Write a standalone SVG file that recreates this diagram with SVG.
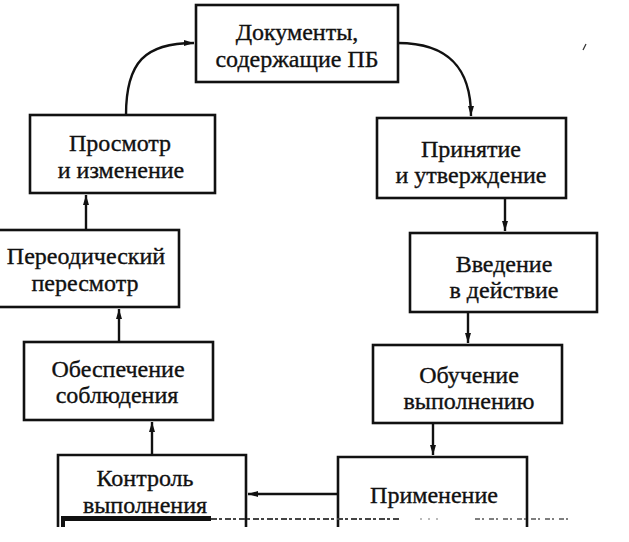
<svg xmlns="http://www.w3.org/2000/svg" width="629" height="542" viewBox="0 0 629 542">
<style>
.box{fill:#fff;stroke:#111;stroke-width:2.6}
.open{fill:none;stroke:#111;stroke-width:2.6}
.t{font-family:"Liberation Serif","Times New Roman",serif;font-size:24px;fill:#111;stroke:#111;stroke-width:0.35;text-anchor:middle}
.c{fill:none;stroke:#111;stroke-width:2.4}
</style>
<defs>
<marker id="ah" viewBox="0 0 10 6" refX="10" refY="3" markerWidth="10" markerHeight="6" markerUnits="userSpaceOnUse" orient="auto">
<path d="M0,0 L10,3 L0,6 Z" fill="#111"/>
</marker>
</defs>
<rect width="629" height="542" fill="#fff"/>
<g id="connectors">
<path class="c" d="M126,115 C126,62 145,43 194,43" marker-end="url(#ah)"/>
<path class="c" d="M398,43 C450,43 471,70 471,116" marker-end="url(#ah)"/>
<line class="c" x1="86" y1="230" x2="86" y2="195" marker-end="url(#ah)"/>
<line class="c" x1="119" y1="342" x2="119" y2="309" marker-end="url(#ah)"/>
<line class="c" x1="152" y1="455" x2="152" y2="422" marker-end="url(#ah)"/>
<line class="c" x1="505" y1="198" x2="505" y2="231" marker-end="url(#ah)"/>
<line class="c" x1="468" y1="312" x2="468" y2="343" marker-end="url(#ah)"/>
<line class="c" x1="433" y1="423" x2="433" y2="455" marker-end="url(#ah)"/>
<line class="c" x1="338" y1="494" x2="248" y2="494" marker-end="url(#ah)"/>
</g>
<g id="n1">
<rect class="box" x="196" y="5" width="202" height="77"/>
<text class="t" x="297" y="40">Документы,</text>
<text class="t" x="297" y="67">содержащие ПБ</text>
</g>
<g id="n2">
<rect class="box" x="377" y="118" width="189" height="80"/>
<text class="t" x="471" y="157">Принятие</text>
<text class="t" x="471" y="183">и утверждение</text>
</g>
<g id="n3">
<rect class="box" x="410" y="233" width="187" height="79"/>
<text class="t" x="504" y="272">Введение</text>
<text class="t" x="504" y="298">в действие</text>
</g>
<g id="n4">
<rect class="box" x="373" y="345" width="189" height="78"/>
<text class="t" x="469" y="383">Обучение</text>
<text class="t" x="469" y="409">выполнению</text>
</g>
<g id="n5">
<path class="open" d="M338,527 V457 H527 V527"/>
<text class="t" x="434" y="503">Применение</text>
</g>
<g id="n6">
<path class="open" d="M58,527 V455 H246 V527"/>
<text class="t" x="145" y="486">Контроль</text>
<text class="t" x="145" y="513">выполнения</text>
</g>
<g id="n7">
<rect class="box" x="24" y="342" width="189" height="78"/>
<text class="t" x="118" y="377">Обеспечение</text>
<text class="t" x="117" y="403">соблюдения</text>
</g>
<g id="n8">
<rect class="box" x="-2" y="230" width="181" height="77"/>
<text class="t" x="86" y="264">Переодический</text>
<text class="t" x="85" y="291">пересмотр</text>
</g>
<g id="n9">
<rect class="box" x="30" y="115" width="185" height="78"/>
<text class="t" x="120" y="151">Просмотр</text>
<text class="t" x="121" y="178">и изменение</text>
</g>
<g id="artifacts">
<rect x="61" y="516" width="150" height="5" fill="#111"/>
<rect x="61" y="516" width="4" height="11" fill="#111"/>
<line x1="211" y1="519" x2="400" y2="519" stroke="#444" stroke-width="1.8" stroke-dasharray="6 2 3 3"/>
<line x1="420" y1="519" x2="440" y2="519" stroke="#777" stroke-width="1.2" stroke-dasharray="2 6"/>
<line x1="475" y1="519" x2="572" y2="519" stroke="#555" stroke-width="1.5" stroke-dasharray="5 2 2 5"/>
<line x1="583" y1="50" x2="586" y2="44" stroke="#333" stroke-width="1.2"/>
</g>
</svg>
